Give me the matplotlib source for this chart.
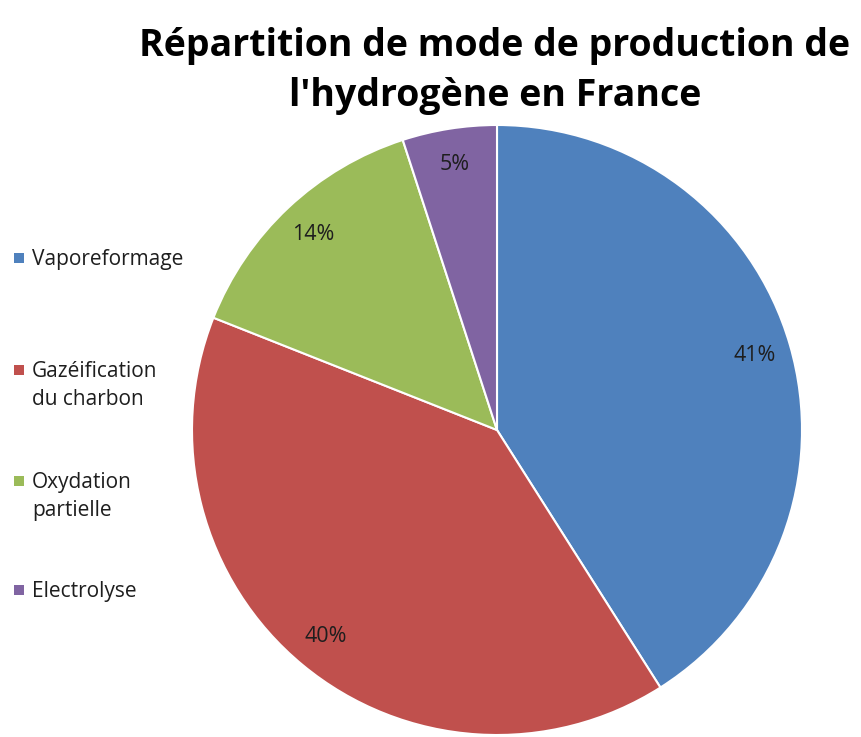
import matplotlib.pyplot as plt
from matplotlib.patches import Rectangle

labels = ["Vaporeformage", "Gazéification\ndu charbon", "Oxydation\npartielle", "Electrolyse"]
values = [41, 40, 14, 5]
colors = ["#4F81BD", "#C0504D", "#9BBB59", "#8064A2"]
title = "Répartition de mode de production de\nl'hydrogène en France"

W, H = 861, 737
fig = plt.figure(figsize=(W / 100, H / 100), dpi=100)

# pie centre (497, 430) px, radius 305 px
cx, cy, r = 497, 430, 305
ax = fig.add_axes([(cx - r) / W, (H - cy - r) / H, 2 * r / W, 2 * r / H])
wedges, texts, autotexts = ax.pie(
    values, colors=colors, startangle=90, counterclock=False,
    autopct="%1.0f%%", pctdistance=0.88, radius=1,
    wedgeprops=dict(edgecolor="white", linewidth=1.5),
    textprops=dict(fontsize=15.5, color="#1e1e1e", family="Open Sans"))
ax.set_xlim(-1.0, 1.0)
ax.set_ylim(-1.0, 1.0)
ax.set_aspect("equal")
ax.axis("off")

fig.text(495 / W, 1 - 71 / H, title, ha="center", va="center",
         fontsize=27, fontweight="bold", family="Open Sans",
         linespacing=1.42)

# legend on the left, square marker beside first line of each label
first_line_y = [258, 370, 481, 590]
for lab, col, y in zip(labels, colors, first_line_y):
    fig.patches.append(Rectangle((14 / W, 1 - (y + 5) / H), 10 / W, 10 / H,
                                 transform=fig.transFigure, facecolor=col,
                                 edgecolor="none"))
    fig.text(32 / W, 1 - (y - 9) / H, lab, ha="left", va="top",
             fontsize=15, family="Open Sans", color="#1e1e1e",
             linespacing=1.45)

fig.savefig("out.png", dpi=100)
